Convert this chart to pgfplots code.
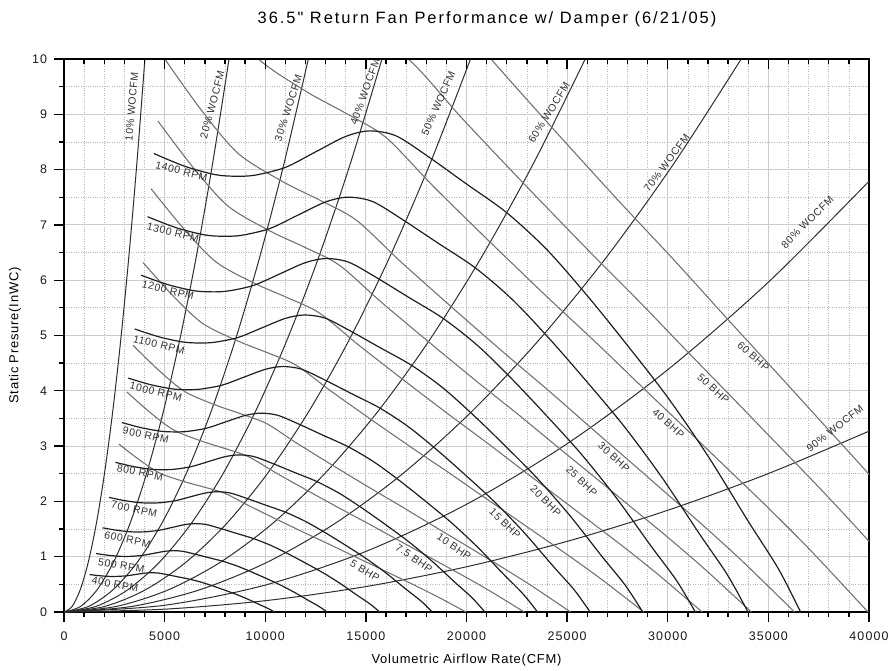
\documentclass[border=0pt]{standalone}
\usepackage{fontspec}
\setmainfont{Liberation Sans}
\newfontfamily\lab{Liberation Sans}[LetterSpace=6]
\newfontfamily\tickf{Liberation Sans}[LetterSpace=9]
\newfontfamily\tit{Liberation Sans}[LetterSpace=12]
\usepackage{pgfplots}
\pgfplotsset{compat=1.18}
\pgfplotsset{
  rpm/.style={color=black!88, line width=1.2bp, smooth, no marks},
  wo/.style={color=black!82, line width=1.0bp, smooth, no marks},
  bhp/.style={color=black!55, line width=1.1bp, smooth, no marks},
}
\tikzset{
  cl/.style={font=\lab\fontsize{10.5}{12}\selectfont, text=black!80, inner sep=0pt},
}
\begin{document}
\begin{tikzpicture}
\begin{axis}[
  at={(0,0)}, anchor=south west,
  scale only axis, width=805bp, height=553bp,
  xmin=0, xmax=40000, ymin=0, ymax=10,
  xtick={0,5000,...,40000}, ytick={0,1,...,10},
  minor x tick num=4, minor y tick num=1,
  tick pos=left, tick align=outside,
  major tick length=10bp, minor tick length=5bp,
  grid=both,
  major grid style={draw=black!20, line width=0.9bp},
  minor grid style={draw=black!28, dotted, line width=0.7bp},
  axis line style={line width=1.6bp},
  every tick/.style={black, line width=1.3bp},
  scaled x ticks=false,
  /pgf/number format/1000 sep={},
  /pgf/number format/assume math mode=true,
  ticklabel style={font=\tickf\fontsize{12.5}{14}\selectfont, text=black!90},
  xticklabel style={yshift=-6bp},
  yticklabel style={xshift=-3.5bp},
  xlabel={Volumetric Airflow Rate(CFM)},
  ylabel={Static Presure(InWC)},
  xlabel style={font=\lab\fontsize{13}{15}\selectfont, at={(axis description cs:0.5,-0.0868)}, anchor=center},
  ylabel style={font=\lab\fontsize{13}{15}\selectfont, at={(axis description cs:-0.0609,0.5)}, anchor=center},
  title={36.5" Return Fan Performance w/ Damper (6/21/05)},
  title style={font=\tit\fontsize{16.5}{18}\selectfont, at={(axis description cs:0.5255,1.0615)}, anchor=center},
  clip=true,
]
% ---------- WOCFM system curves ----------
\addplot[wo] coordinates {(0,0)(402,0.1)(804,0.4)(1206,0.9)(1608,1.6)(2010,2.5)(2412,3.6)(2814,4.9)(3216,6.4)(3618,8.1)(4020,10)};
\addplot[wo] coordinates {(0,0)(820,0.1)(1640,0.4)(2460,0.9)(3280,1.6)(4100,2.5)(4920,3.6)(5740,4.9)(6560,6.4)(7380,8.1)(8200,10)};
\addplot[wo] coordinates {(0,0)(1214,0.1)(2428,0.4)(3642,0.9)(4856,1.6)(6070,2.5)(7284,3.6)(8498,4.9)(9712,6.4)(10926,8.1)(12140,10)};
\addplot[wo] coordinates {(0,0)(1580,0.1)(3160,0.4)(4740,0.9)(6320,1.6)(7900,2.5)(9480,3.6)(11060,4.9)(12640,6.4)(14220,8.1)(15800,10)};
\addplot[wo] coordinates {(0,0)(2020,0.1)(4040,0.4)(6060,0.9)(8080,1.6)(10100,2.5)(12120,3.6)(14140,4.9)(16160,6.4)(18180,8.1)(20200,10)};
\addplot[wo] coordinates {(0,0)(2590,0.1)(5180,0.4)(7770,0.9)(10360,1.6)(12950,2.5)(15540,3.6)(18130,4.9)(20720,6.4)(23310,8.1)(25900,10)};
\addplot[wo] coordinates {(0,0)(3365,0.1)(6730,0.4)(10095,0.9)(13460,1.6)(16825,2.5)(20190,3.6)(23555,4.9)(26920,6.4)(30285,8.1)(33650,10)};
\addplot[wo] coordinates {(0,0)(5000,0.1217)(10000,0.4869)(15000,1.0955)(20000,1.9475)(25000,3.0430)(30000,4.3819)(35000,5.9642)(40000,7.79)};
\addplot[wo] coordinates {(0,0)(5000,0.0511)(10000,0.2044)(15000,0.4598)(20000,0.8175)(25000,1.2773)(30000,1.8394)(35000,2.5036)(40000,3.27)};
% ---------- BHP curves ----------
\addplot[bhp] coordinates {(2725,3.0375)(3750,2.75)(4770,2.51)(6000,2.355)(7000,2.255)(8000,2.145)(9172.5,1.925)(10500,1.6875)(12000,1.425)(13250,1.2125)(14390,1.0125)(15500,0.82)(16500,0.645)(17472,0.475)(18566.5,0.275)(19975,0)};
\addplot[bhp] coordinates {(3119.4,3.9803)(4292.7,3.6036)(5460.3,3.2891)(6868.3,3.0860)(8013.0,2.9550)(9157.8,2.8108)(10500.0,2.5225)(12019.6,2.2113)(13736.6,1.8673)(15167.5,1.5889)(16472.5,1.3268)(17743.2,1.0745)(18887.9,0.8452)(20000.6,0.6224)(21253.4,0.3604)(22865.8,0)};
\addplot[bhp] coordinates {(3433.3,4.8217)(4724.7,4.3654)(6009.8,3.9844)(7559.5,3.7383)(8819.4,3.5796)(10079.4,3.4050)(11556.6,3.0557)(13229.2,2.6787)(15119.0,2.2620)(16693.9,1.9247)(18130.2,1.6072)(19528.8,1.3017)(20788.7,1.0239)(22013.3,0.7540)(23392.3,0.4365)(25166.9,0)};
\addplot[bhp] coordinates {(3930.1,6.3182)(5408.4,5.7202)(6879.5,5.2210)(8653.4,4.8986)(10095.7,4.6906)(11537.9,4.4618)(13228.9,4.0042)(15143.5,3.5101)(17306.9,2.9641)(19109.7,2.5221)(20753.8,2.1061)(22354.7,1.7057)(23797.0,1.3417)(25199.2,0.9880)(26777.4,0.5720)(28808.7,0)};
\addplot[bhp] coordinates {(4325.7,7.6540)(5952.8,6.9296)(7571.9,6.3248)(9524.4,5.9342)(11111.8,5.6822)(12699.2,5.4051)(14560.4,4.8507)(16667.7,4.2522)(19048.8,3.5908)(21033.1,3.0553)(22842.7,2.5513)(24604.7,2.0663)(26192.1,1.6253)(27735.1,1.1969)(29472.5,0.6930)(31708.3,0)};
\addplot[bhp] coordinates {(4659.7,8.8817)(6412.4,8.0410)(8156.6,7.3392)(10259.9,6.8860)(11969.9,6.5936)(13679.8,6.2720)(15684.8,5.6287)(17954.8,4.9343)(20519.8,4.1667)(22657.2,3.5454)(24606.6,2.9606)(26504.7,2.3977)(28214.7,1.8860)(29876.8,1.3889)(31748.3,0.8041)(34157.0,0)};
\addplot[bhp] coordinates {(4951.7,10.0296)(6814.2,9.0803)(8667.7,8.2878)(10902.7,7.7760)(12719.8,7.4458)(14537.0,7.0826)(16667.5,6.3562)(19079.8,5.5720)(21805.4,4.7052)(24076.8,4.0036)(26148.4,3.3432)(28165.4,2.7076)(29982.5,2.1297)(31748.7,1.5684)(33737.6,0.9080)(36297.0,0)};
\addplot[bhp] coordinates {(5450,12.15)(7500,11.0)(9540,10.04)(12000,9.42)(14000,9.02)(16000,8.58)(18345,7.7)(21000,6.75)(24000,5.7)(26500,4.85)(28780,4.05)(31000,3.28)(33000,2.58)(34944,1.9)(37133,1.1)(39950,0)};
\addplot[bhp] coordinates {(5870.8,14.0989)(8079.2,12.7644)(10276.7,11.6504)(12926.6,10.9310)(15081.1,10.4668)(17235.5,9.9562)(19761.6,8.9351)(22621.6,7.8327)(25853.3,6.6143)(28546.3,5.6279)(31002.4,4.6996)(33393.8,3.8061)(35548.3,2.9938)(37642.4,2.2048)(40000.4,1.2764)(43034.9,0)};
\addplot[bhp] coordinates {(6238.7,15.9210)(8585.3,14.4141)(10920.5,13.1561)(13736.5,12.3437)(16025.9,11.8195)(18315.4,11.2430)(20999.7,10.0898)(24038.9,8.8450)(27473.0,7.4691)(30334.8,6.3553)(32944.8,5.3070)(35486.0,4.2980)(37775.4,3.3808)(40000.6,2.4897)(42506.5,1.4414)(45731.2,0)};
% ---------- RPM curves ----------
\addplot[rpm] coordinates {(1277.1,0.6767)(1714.3,0.6580)(2142.9,0.6457)(2428.6,0.6433)(2714.3,0.6449)(3142.9,0.6563)(3571.4,0.6792)(4000,0.7020)(4342.9,0.7102)(4714.3,0.7029)(5142.9,0.6743)(5714.3,0.6318)(6285.7,0.5894)(6857.1,0.5347)(7428.6,0.4669)(8000,0.3935)(8571.4,0.3167)(9142.9,0.2302)(9714.3,0.1339)(10142.9,0.0637)(10457.1,0)};
\addplot[rpm] coordinates {(1596.4,1.0574)(2142.9,1.0281)(2678.6,1.0089)(3035.7,1.0051)(3392.9,1.0077)(3928.6,1.0255)(4464.3,1.0612)(5000,1.0969)(5428.6,1.1097)(5892.9,1.0982)(6428.6,1.0536)(7142.9,0.9872)(7857.1,0.9209)(8571.4,0.8355)(9285.7,0.7296)(10000,0.6148)(10714.3,0.4949)(11428.6,0.3597)(12142.9,0.2092)(12678.6,0.0995)(13071.4,0)};
\addplot[rpm] coordinates {(1915.7,1.5227)(2571.4,1.4804)(3214.3,1.4529)(3642.9,1.4473)(4071.4,1.4510)(4714.3,1.4767)(5357.1,1.5282)(6000,1.5796)(6514.3,1.5980)(7071.4,1.5814)(7714.3,1.5171)(8571.4,1.4216)(9428.6,1.3261)(10285.7,1.2031)(11142.9,1.0506)(12000,0.8853)(12857.1,0.7127)(13714.3,0.5180)(14571.4,0.3012)(15214.3,0.1433)(15685.7,0)};
\addplot[rpm] coordinates {(2235,2.0725)(3000,2.015)(3750,1.9775)(4250,1.97)(4750,1.975)(5500,2.01)(6250,2.08)(7000,2.15)(7600,2.175)(8250,2.1525)(9000,2.065)(10000,1.935)(11000,1.805)(12000,1.6375)(13000,1.43)(14000,1.205)(15000,0.97)(16000,0.705)(17000,0.41)(17750,0.195)(18300,0)};
\addplot[rpm] coordinates {(2554.3,2.7069)(3428.6,2.6318)(4285.7,2.5829)(4857.1,2.5731)(5428.6,2.5796)(6285.7,2.6253)(7142.9,2.7167)(8000,2.8082)(8685.7,2.8408)(9428.6,2.8114)(10285.7,2.6971)(11428.6,2.5273)(12571.4,2.3576)(13714.3,2.1388)(14857.1,1.8678)(16000,1.5739)(17142.9,1.2669)(18285.7,0.9208)(19428.6,0.5355)(20285.7,0.2547)(20914.3,0)};
\addplot[rpm] coordinates {(2873.6,3.4260)(3857.1,3.3309)(4821.4,3.2689)(5464.3,3.2565)(6107.1,3.2648)(7071.4,3.3227)(8035.7,3.4384)(9000,3.5541)(9771.4,3.5954)(10607.1,3.5582)(11571.4,3.4136)(12857.1,3.1987)(14142.9,2.9838)(15428.6,2.7069)(16714.3,2.3639)(18000,1.9919)(19285.7,1.6035)(20571.4,1.1654)(21857.1,0.6778)(22821.4,0.3223)(23528.6,0)};
\addplot[rpm] coordinates {(3192.9,4.2296)(4285.7,4.1122)(5357.1,4.0357)(6071.4,4.0204)(6785.7,4.0306)(7857.1,4.1020)(8928.6,4.2449)(10000,4.3878)(10857.1,4.4388)(11785.7,4.3929)(12857.1,4.2143)(14285.7,3.9490)(15714.3,3.6837)(17142.9,3.3418)(18571.4,2.9184)(20000,2.4592)(21428.6,1.9796)(22857.1,1.4388)(24285.7,0.8367)(25357.1,0.3980)(26142.9,0)};
\addplot[rpm] coordinates {(3512.1,5.1178)(4714.3,4.9758)(5892.9,4.8832)(6678.6,4.8647)(7464.3,4.8770)(8642.9,4.9635)(9821.4,5.1363)(11000,5.3092)(11942.9,5.3709)(12964.3,5.3154)(14142.9,5.0993)(15714.3,4.7783)(17285.7,4.4572)(18857.1,4.0436)(20428.6,3.5312)(22000,2.9756)(23571.4,2.3953)(25142.9,1.7409)(26714.3,1.0124)(27892.9,0.4815)(28757.1,0)};
\addplot[rpm] coordinates {(3831.4,6.0906)(5142.9,5.9216)(6428.6,5.8114)(7285.7,5.7894)(8142.9,5.8041)(9428.6,5.9069)(10714.3,6.1127)(12000,6.3184)(13028.6,6.3918)(14142.9,6.3257)(15428.6,6.0686)(17142.9,5.6865)(18857.1,5.3045)(20571.4,4.8122)(22285.7,4.2024)(24000,3.5412)(25714.3,2.8506)(27428.6,2.0718)(29142.9,1.2049)(30428.6,0.5731)(31371.4,0)};
\addplot[rpm] coordinates {(4150.7,7.1480)(5571.4,6.9497)(6964.3,6.8204)(7892.9,6.7945)(8821.4,6.8117)(10214.3,6.9325)(11607.1,7.1739)(13000,7.4153)(14114.3,7.5015)(15321.4,7.4239)(16714.3,7.1221)(18571.4,6.6738)(20428.6,6.2254)(22285.7,5.6477)(24142.9,4.9320)(26000,4.1560)(27857.1,3.3455)(29714.3,2.4315)(31571.4,1.4141)(32964.3,0.6726)(33985.7,0)};
\addplot[rpm] coordinates {(4470,8.29)(6000,8.06)(7500,7.91)(8500,7.88)(9500,7.90)(11000,8.04)(12500,8.32)(14000,8.60)(15200,8.70)(16500,8.61)(18000,8.26)(20000,7.74)(22000,7.22)(24000,6.55)(26000,5.72)(28000,4.82)(30000,3.88)(32000,2.82)(34000,1.64)(35500,0.78)(36600,0)};
% ---------- labels ----------
\node[cl, rotate=-14] at (axis cs:5838,7.97) {1400 RPM};
\node[cl, rotate=-14] at (axis cs:5416,6.86) {1300 RPM};
\node[cl, rotate=-14] at (axis cs:5168,5.82) {1200 RPM};
\node[cl, rotate=-14] at (axis cs:4720,4.83) {1100 RPM};
\node[cl, rotate=-14] at (axis cs:4562,3.98) {1000 RPM};
\node[cl, rotate=-12] at (axis cs:4066,3.20) {900 RPM};
\node[cl, rotate=-12] at (axis cs:3776,2.52) {800 RPM};
\node[cl, rotate=-12] at (axis cs:3487,1.86) {700 RPM};
\node[cl, rotate=-12] at (axis cs:3155,1.31) {600 RPM};
\node[cl, rotate=-10] at (axis cs:2849,0.84) {500 RPM};
\node[cl, rotate=-10] at (axis cs:2534,0.50) {400 RPM};
\node[cl, rotate=85] at (axis cs:3363,9.14) {10\% WOCFM};
\node[cl, rotate=75] at (axis cs:7370,9.17) {20\% WOCFM};
\node[cl, rotate=72] at (axis cs:11147,9.11) {30\% WOCFM};
\node[cl, rotate=70] at (axis cs:14957,9.41) {40\% WOCFM};
\node[cl, rotate=66] at (axis cs:18600,9.20) {50\% WOCFM};
\node[cl, rotate=58] at (axis cs:24100,9.03) {60\% WOCFM};
\node[cl, rotate=53] at (axis cs:29950,8.12) {70\% WOCFM};
\node[cl, rotate=45] at (axis cs:36935,7.05) {80\% WOCFM};
\node[cl, rotate=38] at (axis cs:38310,3.32) {90\% WOCFM};
\node[cl, rotate=-31] at (axis cs:14957,0.75) {5 BHP};
\node[cl, rotate=-35] at (axis cs:17392,0.97) {7.5 BHP};
\node[cl, rotate=-34] at (axis cs:19379,1.18) {10 BHP};
\node[cl, rotate=-44] at (axis cs:21913,1.60) {15 BHP};
\node[cl, rotate=-45] at (axis cs:23935,2.01) {20 BHP};
\node[cl, rotate=-44] at (axis cs:25725,2.37) {25 BHP};
\node[cl, rotate=-42] at (axis cs:27330,2.80) {30 BHP};
\node[cl, rotate=-42] at (axis cs:30028,3.41) {40 BHP};
\node[cl, rotate=-42] at (axis cs:32264,4.04) {50 BHP};
\node[cl, rotate=-42] at (axis cs:34252,4.62) {60 BHP};
\end{axis}
% top ticks pointing inward
\begin{axis}[
  at={(0,0)}, anchor=south west,
  scale only axis, width=805bp, height=553bp,
  xmin=0, xmax=40000, ymin=0, ymax=10,
  axis x line*=top, axis y line=none,
  xtick={0,5000,...,40000}, minor x tick num=4,
  scaled x ticks=false,
  tick align=inside, xticklabels={},
  major tick length=10bp, minor tick length=5bp,
  axis line style={line width=1.6bp},
  every tick/.style={black, line width=1.3bp},
]
\addplot[draw=none] coordinates {(0,0)};
\end{axis}
\pgfresetboundingbox
\path[use as bounding box] (-64bp,-59bp) rectangle (827bp,612bp);
\end{tikzpicture}
\end{document}
